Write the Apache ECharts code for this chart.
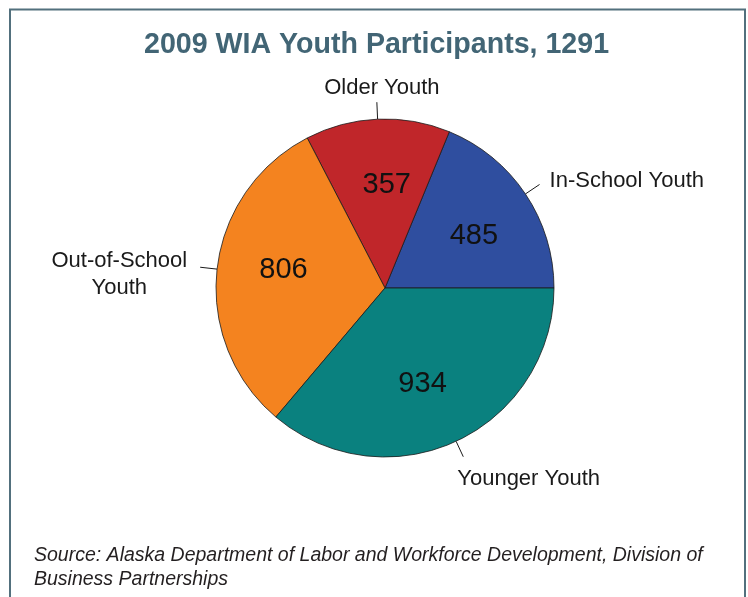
<!DOCTYPE html>
<html>
<head>
<meta charset="utf-8">
<script src="https://cdn.jsdelivr.net/npm/echarts@6/dist/echarts.min.js"></script>
<style>
html,body{margin:0;padding:0;background:#fff;}
#chart{width:748px;height:597px;}
</style>
</head>
<body>
<div id="chart"></div>
<script>
var titleText = '2009 WIA Youth Participants, 1291';
var categories = ['In-School Youth', 'Older Youth', 'Out-of-School\nYouth', 'Younger Youth'];
var values = [485, 357, 806, 934];
var colors = ['#2f4e9f', '#c0262a', '#f4831f', '#0a817f'];
var sourceText = 'Source: Alaska Department of Labor and Workforce Development, Division of\nBusiness Partnerships';

var font = '"Liberation Sans", Arial, Helvetica, sans-serif';
var sliceData = categories.map(function (c, i) {
  return { name: c, value: values[i], itemStyle: { color: colors[i] } };
});
var overlayData = categories.map(function (c, i) {
  return { name: c, value: values[i] };
});

var chart = echarts.init(document.getElementById('chart'), null, { renderer: 'canvas' });

chart.setOption({
  backgroundColor: '#ffffff',
  animation: false,
  title: {
    text: titleText,
    left: 139,
    top: 26,
    textStyle: { fontFamily: font, fontSize: 28.6, fontWeight: 'bold', color: '#426575' }
  },
  graphic: [
    {
      type: 'rect',
      shape: { x: 10, y: 9.5, width: 735, height: 640 },
      style: { fill: 'none', stroke: '#52707d', lineWidth: 2 },
      silent: true
    },
    {
      type: 'text',
      left: 34,
      top: 544,
      style: {
        text: sourceText,
        font: 'italic 19.5px ' + font,
        fill: '#231f20',
        lineHeight: 24
      },
      silent: true
    }
  ],
  series: [
    {
      type: 'pie',
      center: [385, 288],
      radius: [0, 169],
      startAngle: 0,
      clockwise: false,
      silent: true,
      avoidLabelOverlap: false,
      itemStyle: { borderColor: '#1a1a1a', borderWidth: 0.8 },
      label: {
        show: true,
        position: 'outside',
        formatter: '{b}',
        fontFamily: font,
        fontSize: 22,
        lineHeight: 27,
        color: '#1a1a1a'
      },
      labelLine: {
        show: true,
        length: 17,
        length2: 0,
        smooth: false,
        lineStyle: { color: '#1a1a1a', width: 1 }
      },
      labelLayout: function (p) {
        var pts = p.labelLinePoints;
        if (!pts) return {};
        var e = pts[pts.length - 1];
        var keep = pts.map(function (q) { return [q[0], q[1]]; });
        var i = p.dataIndex;
        if (i === 0) {
          return { x: e[0] + 10, y: e[1] - 4, align: 'left', verticalAlign: 'middle', labelLinePoints: keep };
        } else if (i === 1) {
          return { x: e[0] + 5, y: e[1] - 1, align: 'center', verticalAlign: 'bottom', labelLinePoints: keep };
        } else if (i === 2) {
          return { x: e[0] - 13 - p.labelRect.width / 2, y: e[1] + 7, align: 'center', verticalAlign: 'middle', labelLinePoints: keep };
        } else {
          return { x: e[0] - 6, y: e[1] + 9, align: 'left', verticalAlign: 'top', labelLinePoints: keep };
        }
      },
      data: sliceData
    },
    {
      type: 'pie',
      center: [385, 288],
      radius: [0, 200],
      startAngle: -3.5,
      clockwise: false,
      silent: true,
      itemStyle: { color: 'rgba(0,0,0,0)', borderWidth: 0 },
      label: {
        show: true,
        position: 'inner',
        formatter: '{c}',
        fontFamily: font,
        fontSize: 29,
        color: '#111111'
      },
      labelLine: { show: false },
      data: overlayData
    }
  ]
});
</script>
</body>
</html>
